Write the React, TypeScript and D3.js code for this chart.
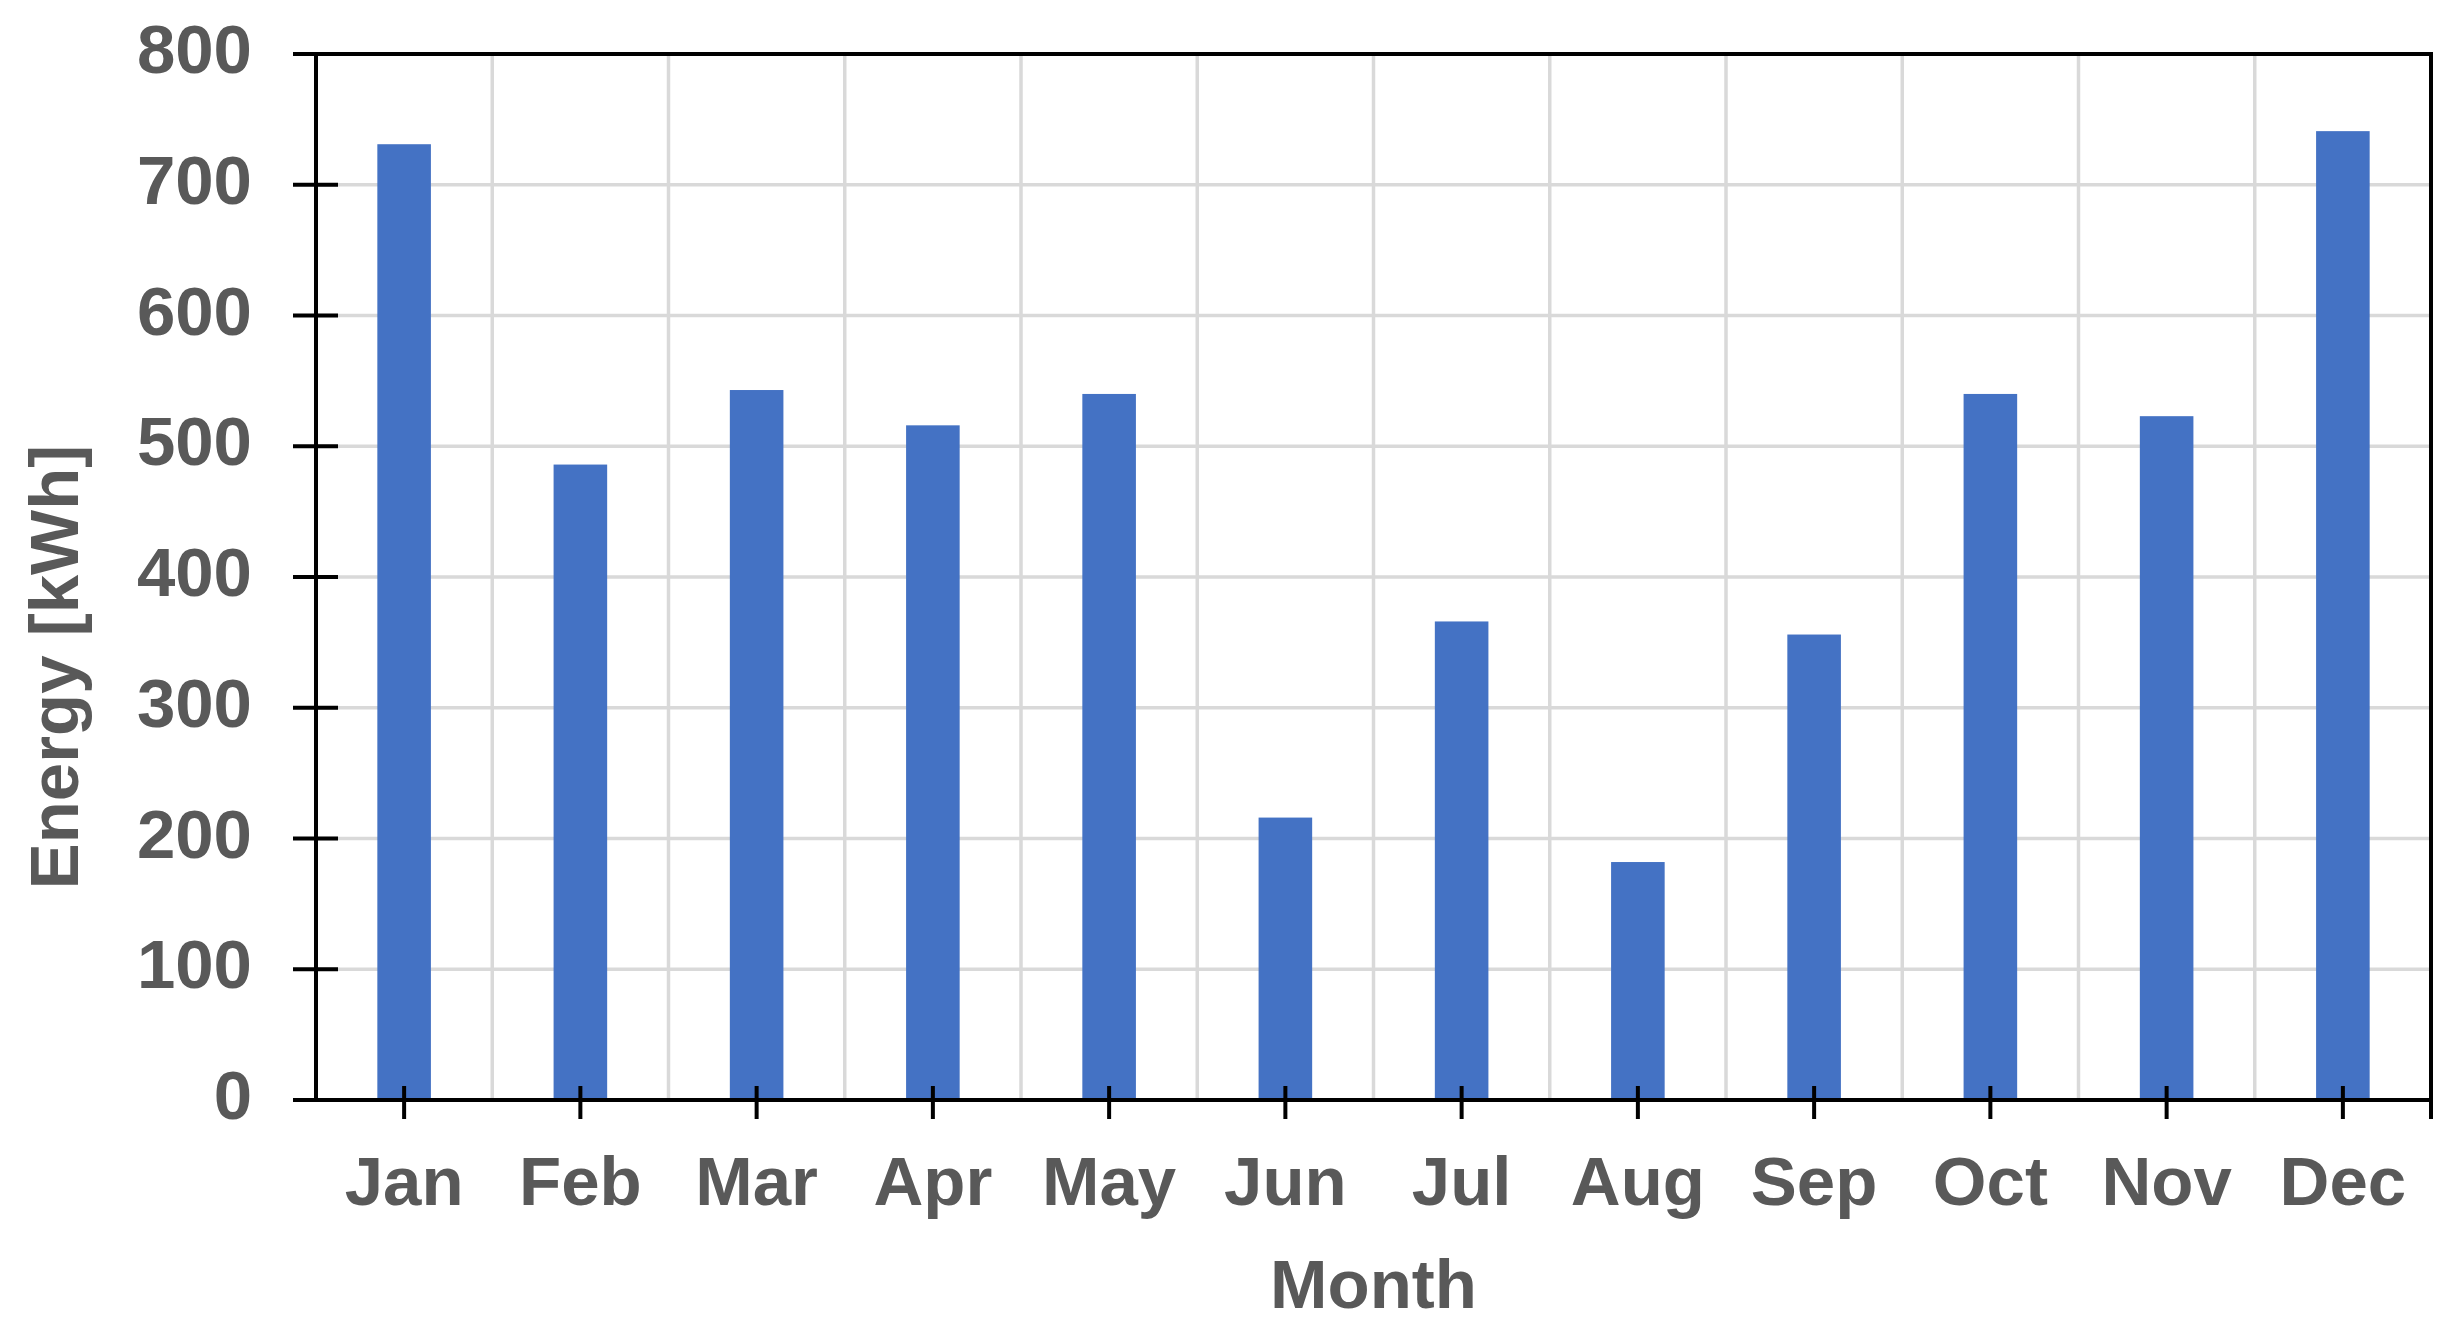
import React, { useRef, useEffect } from 'react';
import * as d3 from 'd3';

const months = ['Jan', 'Feb', 'Mar', 'Apr', 'May', 'Jun', 'Jul', 'Aug', 'Sep', 'Oct', 'Nov', 'Dec'];
const energy = [731, 486, 543, 516, 540, 216, 366, 182, 356, 540, 523, 741];
const yTicks = [0, 100, 200, 300, 400, 500, 600, 700, 800];

const W = 2453;
const H = 1332;

const App = () => {
    const ref = useRef<SVGSVGElement>(null);

    useEffect(() => {
        const svg = d3.select(ref.current)
            .attr('width', W)
            .attr('height', H);

        svg.selectAll('*').remove();

        const left = 316, right = 2431, top = 54, bottom = 1100;
        const font = '"Liberation Sans", Arial, sans-serif';
        const grey = '#595959';

        const x = d3.scaleBand<string>()
            .domain(months)
            .range([left, right])
            .padding(0);

        const y = d3.scaleLinear()
            .domain([0, 800])
            .range([bottom, top]);

        svg.append('rect')
            .attr('width', W).attr('height', H).attr('fill', '#fff');

        // gridlines
        const grid = svg.append('g').attr('stroke', '#d9d9d9').attr('stroke-width', 3.5);
        grid.selectAll('.hg')
            .data(yTicks.filter(d => d > 0 && d < 800))
            .enter().append('line')
            .attr('x1', left).attr('x2', right)
            .attr('y1', d => y(d)).attr('y2', d => y(d));
        grid.selectAll('.vg')
            .data(months.slice(1))
            .enter().append('line')
            .attr('x1', d => x(d)!).attr('x2', d => x(d)!)
            .attr('y1', top).attr('y2', bottom);

        // bars
        const bw = x.bandwidth() * 0.304;
        svg.selectAll('.bar')
            .data(months)
            .enter().append('rect')
            .attr('x', d => x(d)! + x.bandwidth() / 2 - bw / 2)
            .attr('y', (d, i) => y(energy[i]))
            .attr('width', bw)
            .attr('height', (d, i) => bottom - y(energy[i]))
            .attr('fill', '#4472C4');

        // frame + ticks
        const ax = svg.append('g').attr('stroke', '#000').attr('stroke-width', 4).attr('fill', 'none');
        ax.append('rect')
            .attr('x', left).attr('y', top)
            .attr('width', right - left).attr('height', bottom - top);
        ax.selectAll('.yt')
            .data(yTicks)
            .enter().append('line')
            .attr('x1', left - 23).attr('x2', left + 22)
            .attr('y1', d => y(d)).attr('y2', d => y(d));
        ax.selectAll('.xt')
            .data(months)
            .enter().append('line')
            .attr('x1', d => x(d)! + x.bandwidth() / 2).attr('x2', d => x(d)! + x.bandwidth() / 2)
            .attr('y1', bottom - 14).attr('y2', bottom + 19);
        ax.append('line')
            .attr('x1', right).attr('x2', right)
            .attr('y1', bottom).attr('y2', bottom + 19);

        // y tick labels
        svg.selectAll('.yl')
            .data(yTicks)
            .enter().append('text')
            .attr('x', 252)
            .attr('y', d => y(d) + 19)
            .attr('text-anchor', 'end')
            .attr('font-family', font)
            .attr('font-weight', 'bold')
            .attr('font-size', 69)
            .attr('fill', grey)
            .text(d => d);

        // x tick labels
        svg.selectAll('.xl')
            .data(months)
            .enter().append('text')
            .attr('x', d => x(d)! + x.bandwidth() / 2)
            .attr('y', 1205)
            .attr('text-anchor', 'middle')
            .attr('font-family', font)
            .attr('font-weight', 'bold')
            .attr('font-size', 69)
            .attr('fill', grey)
            .text(d => d);

        // axis titles
        svg.append('text')
            .attr('x', (left + right) / 2)
            .attr('y', 1308)
            .attr('text-anchor', 'middle')
            .attr('font-family', font)
            .attr('font-weight', 'bold')
            .attr('font-size', 69)
            .attr('fill', grey)
            .text('Month');

        svg.append('text')
            .attr('transform', `translate(78,${(top + bottom) / 2 + 90}) rotate(-90)`)
            .attr('text-anchor', 'middle')
            .attr('font-family', font)
            .attr('font-weight', 'bold')
            .attr('font-size', 69)
            .attr('fill', grey)
            .text('Energy [kWh]');
    }, []);

    return (
        <div style={{ position: 'absolute', left: 0, top: 0 }}>
            <svg ref={ref}></svg>
        </div>
    );
};

export default App;
